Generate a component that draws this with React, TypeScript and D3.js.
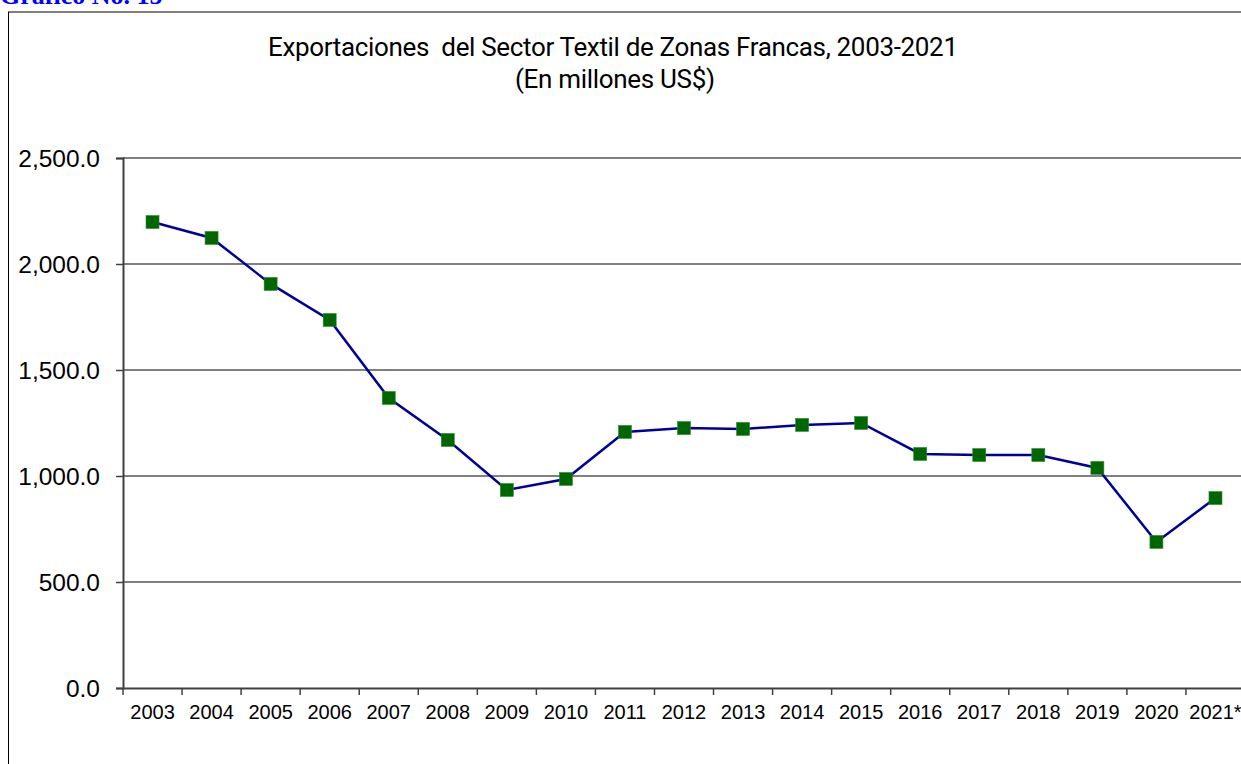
import { useEffect, useRef } from "react";
import * as d3 from "d3";

const years = ["2003", "2004", "2005", "2006", "2007", "2008", "2009", "2010", "2011", "2012", "2013", "2014", "2015", "2016", "2017", "2018", "2019", "2020", "2021*"];
const exports = [2198, 2123, 1906, 1736, 1368, 1170, 934, 986, 1208, 1226, 1222, 1241, 1250, 1104, 1099, 1099, 1038, 689, 896];
const yTicks = [0, 500, 1000, 1500, 2000, 2500];

const W = 1241;
const H = 764;

export default function App() {
  const ref = useRef<SVGSVGElement>(null);

  useEffect(() => {
    const svg = d3.select(ref.current);
    svg.selectAll("*").remove();

    const margin = { top: 158, right: -4, bottom: 76, left: 123 };

    const x = d3.scaleBand().domain(years).range([margin.left, W - margin.right]);
    const y = d3.scaleLinear().domain([0, 2500]).range([H - margin.bottom, margin.top]);

    svg.append("rect").attr("width", W).attr("height", H).attr("fill", "#fff");

    // frame
    svg.append("line").attr("x1", 8).attr("x2", W).attr("y1", 12).attr("y2", 12)
      .attr("stroke", "#808080").attr("stroke-width", 2);
    svg.append("line").attr("x1", 8.5).attr("x2", 8.5).attr("y1", 12).attr("y2", H)
      .attr("stroke", "#000").attr("stroke-width", 1);

    svg.append("text").attr("x", 0).attr("y", 3.5)
      .attr("font-family", "Liberation Serif").attr("font-weight", "bold").attr("font-size", 26)
      .attr("fill", "#0000ff").text("Grafico No. 15");

    // titles
    const title = svg.append("text").attr("text-anchor", "middle")
      .attr("font-family", "Roboto, Liberation Sans").attr("font-size", 26).attr("fill", "#000");
    title.append("tspan").attr("x", 613).attr("y", 56).attr("xml:space", "preserve")
      .attr("textLength", 690).attr("lengthAdjust", "spacing")
      .text("Exportaciones  del Sector Textil de Zonas Francas, 2003-2021");
    title.append("tspan").attr("x", 615).attr("y", 88)
      .attr("textLength", 200).attr("lengthAdjust", "spacing")
      .text("(En millones US$)");

    // gridlines
    svg.append("g").selectAll("line").data(yTicks.filter(d => d > 0)).join("line")
      .attr("x1", margin.left).attr("x2", W)
      .attr("y1", d => y(d)).attr("y2", d => y(d))
      .attr("stroke", "#808080").attr("stroke-width", 2);

    // y axis
    const yAxis = svg.append("g").attr("transform", `translate(${margin.left},0)`)
      .call(d3.axisLeft(y).tickValues(yTicks).tickSize(7).tickPadding(8)
        .tickFormat(d => d3.format(",.1f")(d as number)));
    yAxis.select(".domain").attr("stroke", "#404040").attr("stroke-width", 2);
    yAxis.selectAll(".tick line").attr("stroke", "#404040").attr("stroke-width", 1.5);
    yAxis.selectAll(".tick text").attr("font-family", "Liberation Sans").attr("font-size", 24.5)
      .attr("fill", "#000").attr("dy", "0.35em").attr("x", -23);

    // x axis
    const xAxis = svg.append("g").attr("transform", `translate(0,${y(0)})`)
      .call(d3.axisBottom(x).tickSize(0).tickPadding(17));
    xAxis.select(".domain").attr("stroke", "#404040").attr("stroke-width", 2);
    xAxis.selectAll(".tick text").attr("font-family", "Liberation Sans").attr("font-size", 20).attr("fill", "#000");
    svg.append("g").selectAll("line").data(years).join("line")
      .attr("x1", d => x(d)!).attr("x2", d => x(d)!)
      .attr("y1", y(0)).attr("y2", y(0) + 7)
      .attr("stroke", "#404040").attr("stroke-width", 1.5);

    // series
    const line = d3.line<number>()
      .x((d, i) => x(years[i])! + x.bandwidth() / 2)
      .y(d => y(d));
    svg.append("path").datum(exports).attr("d", line)
      .attr("fill", "none").attr("stroke", "#000099").attr("stroke-width", 2.5);

    const s = 13;
    svg.append("g").selectAll("rect").data(exports).join("rect")
      .attr("x", (d, i) => x(years[i])! + x.bandwidth() / 2 - s / 2)
      .attr("y", d => y(d) - s / 2)
      .attr("width", s).attr("height", s)
      .attr("fill", "#006600").attr("stroke", "#2f8a2f").attr("stroke-width", 0.6);
  }, []);

  return (
    <div style={{ position: "absolute", left: 0, top: 0 }}>
      <svg ref={ref} width={W} height={H} style={{ display: "block" }}></svg>
    </div>
  );
}
